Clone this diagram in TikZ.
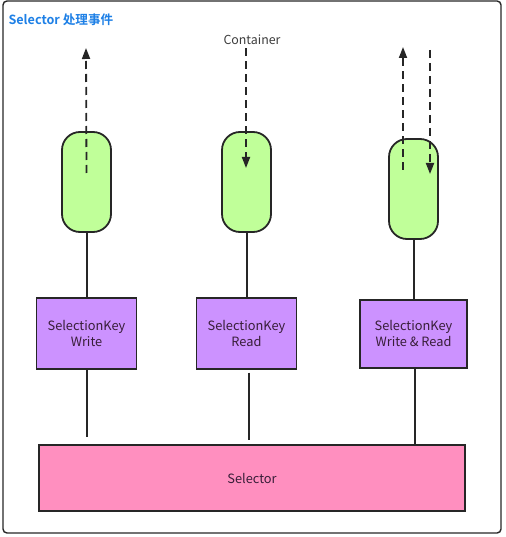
\documentclass[tikz,border=0pt]{standalone}
\usepackage{fontspec}
\setmainfont{Noto Sans CJK SC}[BoldFont={Noto Sans CJK SC Bold}]
\usepackage{tikz}
\usetikzlibrary{positioning}
\usetikzlibrary{arrows.meta}
\definecolor{capgreen}{RGB}{192,255,153}
\definecolor{keypurple}{RGB}{204,146,255}
\definecolor{selpink}{RGB}{255,143,191}
\definecolor{titleblue}{RGB}{30,128,230}
\definecolor{inkgray}{RGB}{38,38,38}
\tikzstyle{capsule} = [rectangle, draw=inkgray, line width=1.8pt, fill=capgreen,
                minimum width=49pt, minimum height=100pt, rounded corners=18pt]
\tikzstyle{keybox} = [rectangle, draw=inkgray, line width=1.8pt, fill=keypurple,
                minimum width=100pt, minimum height=71pt, align=center,
                font=\fontsize{12.8}{16}\selectfont, text=inkgray!80!violet]
\tikzstyle{selbox} = [rectangle, draw=inkgray, line width=1.8pt, fill=selpink,
                minimum width=426pt, minimum height=66pt,
                font=\fontsize{12.8}{16}\selectfont, text=inkgray!80!violet]
\tikzstyle{line} = [draw=inkgray, line width=2pt]
\tikzstyle{flow} = [draw=inkgray, line width=1.8pt, dash pattern=on 8pt off 5pt,
                -{Triangle[length=11pt,width=8pt]}]

\begin{document}
\begin{tikzpicture}[x=1pt, y=-1pt]
            \useasboundingbox (0,0) rectangle (505,537);
            \draw[draw=inkgray, line width=1.4pt, rounded corners=4pt] (3,1) rectangle (501,533);
            \node[anchor=west, text=titleblue, font=\bfseries\fontsize{12.6}{15}\selectfont](title) at (5,20){Selector 处理事件};
            \node[capsule](capw) at (86.5,182){};
            \node[capsule](capr) at (246.5,182){};
            \node[capsule](caprw) at (413.5,189){};
            \node[keybox, below=64pt of capw](keyw){SelectionKey\\Write};
            \node[keybox, below=64pt of capr](keyr){SelectionKey\\Read};
            \node[keybox, below=59pt of caprw, minimum width=107pt, minimum height=68pt](keyrw){SelectionKey\\Write \& Read};
            \node[selbox](sel) at (252,478){Selector};
            \node[font=\fontsize{12.4}{15}\selectfont, text=inkgray!90](container) at (252,40){Container};
            \coordinate (outw) at (86,48);
            \coordinate (outrw) at (403,47);
            \coordinate (inrw) at (430,50);
            \path[line] (capw) -- (keyw);
            \path[line] (capr) -- (keyr);
            \path[line] (caprw) -- (keyrw);
            \path[line, shorten >=7pt] (keyw) -- (keyw |- sel.north);
            \path[line, shorten >=4pt, shorten <=3pt] ([xshift=2pt]keyr.south) -- ([xshift=2pt]keyr.south |- sel.north);
            \path[line] ([xshift=1.5pt]keyrw.south) -- ([xshift=1.5pt]keyrw.south |- sel.north);
            \path[flow] ([yshift=9pt]capw.center) -- (outw);
            \path[flow] ([xshift=-0.5pt]capr.center |- container.south) -- ([xshift=-0.5pt, yshift=14pt]capr.center);
            \path[flow] ([xshift=-10.5pt, yshift=19pt]caprw.center) -- (outrw);
            \path[flow] (inrw) -- ([xshift=16.5pt, yshift=15pt]caprw.center);
        \end{tikzpicture}
\end{document}
